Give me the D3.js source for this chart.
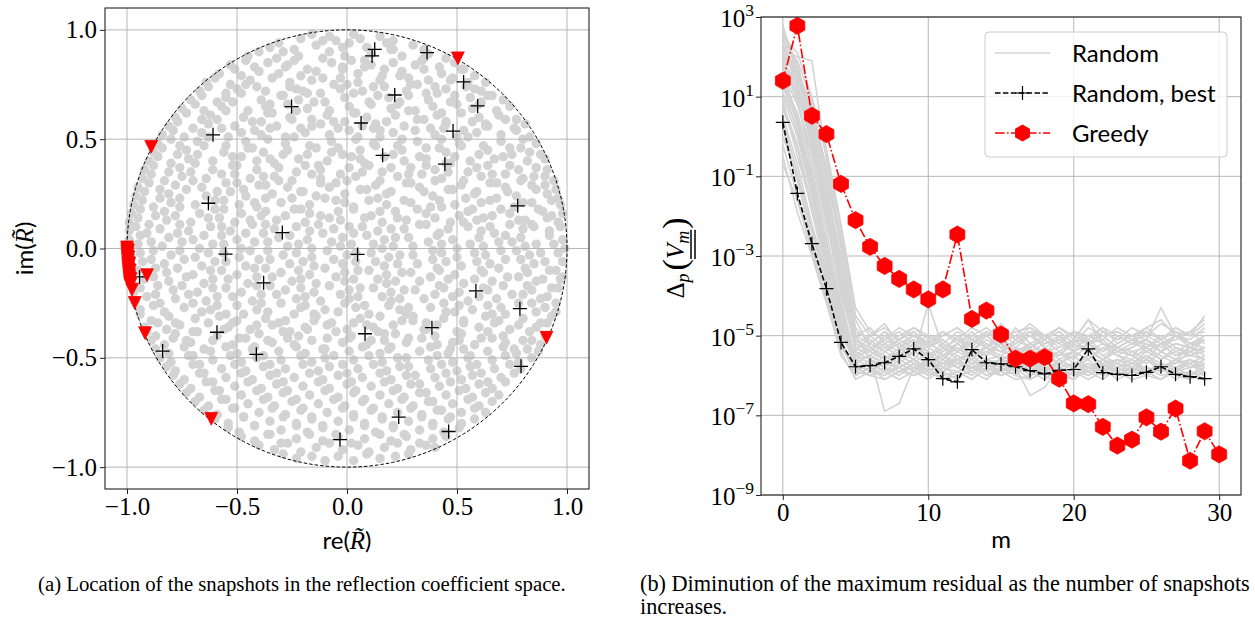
<!DOCTYPE html>
<html><head><meta charset="utf-8">
<script src="https://cdn.jsdelivr.net/npm/d3@7"></script>
<style>
body{margin:0;background:#fff;}
svg{display:block;}
</style></head><body>
<svg id="chart" width="1255" height="620"></svg>
<script>
// ---------------- DATA ----------------
const leftTicks = [-1, -0.5, 0, 0.5, 1];
const leftTickLabels = ["\u22121.0", "\u22120.5", "0.0", "0.5", "1.0"];
const mTicks = [0, 10, 20, 30];
const mTickLabels = ["0", "10", "20", "30"];
const logTicks = [3, 1, -1, -3, -5, -7, -9];
const legendLabels = ["Random", "Random, best", "Greedy"];

// gray snapshot candidates, (re, im) pairs in hundredths
const grayDotsXY = [
-21,96,-16,98,-8,97,-5,95,3,98,6,96,15,97,21,95,
-35,92,-31,94,-24,91,-14,93,-11,95,-2,92,1,94,9,92,18,94,21,91,30,93,35,91,
-45,88,-40,90,-32,87,-29,90,-22,88,-11,87,-8,90,-1,88,8,86,11,89,20,91,25,88,34,86,37,89,45,87,
-53,84,-46,86,-42,83,-36,85,-27,84,-24,86,-18,82,-7,85,-2,83,2,86,11,84,17,82,21,85,31,84,35,87,42,83,49,85,52,82,
-58,80,-51,82,-48,79,-40,81,-31,80,-28,83,-21,79,-14,81,-11,78,-2,82,5,80,8,83,16,79,25,81,28,78,35,82,43,80,47,77,53,82,58,79,
-64,76,-60,78,-53,75,-44,77,-41,74,-34,78,-26,76,-23,73,-16,77,-6,75,-3,78,5,76,12,74,15,77,24,79,29,75,37,77,40,74,48,78,55,76,58,73,63,76,
-67,72,-63,74,-55,71,-50,73,-46,75,-37,72,-29,70,-26,74,-20,72,-12,71,-3,73,0,75,7,72,14,70,17,74,27,72,32,75,36,71,45,73,49,70,54,74,61,72,66,70,
-71,68,-66,70,-59,67,-55,69,-48,71,-39,68,-35,66,-30,70,-22,68,-18,71,-10,67,-1,69,3,71,10,67,19,69,23,66,28,70,37,68,41,71,47,67,56,69,60,66,64,70,71,68,
-75,64,-69,66,-65,63,-57,65,-52,67,-45,63,-37,65,-34,62,-27,66,-18,64,-15,67,-8,63,1,65,4,62,11,66,20,64,24,67,31,63,39,65,43,62,50,66,57,64,61,67,68,63,74,65,
-78,60,-73,62,-66,59,-62,61,-55,63,-47,60,-43,58,-36,62,-26,60,-23,63,-16,59,-9,61,-6,58,3,62,9,60,13,57,22,61,28,63,32,59,41,61,45,58,52,62,60,60,63,57,69,61,77,59,
-81,56,-77,58,-70,55,-63,57,-59,59,-51,56,-42,54,-39,58,-32,56,-25,59,-21,55,-12,57,-4,55,-1,58,7,56,15,54,18,58,26,56,35,59,38,55,45,57,53,54,57,58,64,56,72,59,76,55,81,57,
-84,52,-79,54,-74,51,-66,53,-57,55,-54,51,-48,53,-39,52,-35,55,-28,51,-19,53,-16,56,-8,52,1,54,5,51,12,55,21,53,25,50,31,54,40,52,44,55,50,51,59,53,63,56,70,52,77,54,83,51,
-86,48,-80,50,-76,47,-68,49,-63,51,-55,47,-46,49,-43,46,-36,50,-28,48,-24,51,-17,47,-7,49,-4,46,4,50,12,48,15,51,23,47,32,49,36,46,43,50,51,48,55,51,62,47,70,49,74,46,80,50,86,48,
-88,44,-84,46,-77,43,-73,45,-65,47,-56,44,-52,42,-45,46,-38,44,-35,41,-27,45,-18,43,-14,46,-7,44,2,42,6,45,13,47,21,43,25,45,33,42,42,46,45,44,52,47,60,43,64,45,71,42,79,46,83,44,88,43,
-90,40,-86,42,-80,39,-72,41,-68,43,-61,40,-52,38,-48,42,-41,40,-33,39,-29,43,-22,41,-13,38,-9,40,-2,43,6,41,10,38,17,42,26,40,29,37,36,41,45,39,49,42,56,40,64,38,67,41,75,43,82,40,86,37,90,41,
-92,36,-88,38,-81,35,-76,37,-69,39,-61,36,-57,34,-50,38,-41,36,-38,33,-31,37,-23,35,-19,38,-12,36,-3,34,1,37,8,39,16,35,20,37,28,34,36,38,40,36,47,39,55,35,59,37,66,34,74,38,78,36,85,33,91,36,
-93,32,-89,34,-83,31,-75,33,-71,35,-64,32,-55,30,-51,34,-44,32,-37,29,-33,33,-25,31,-16,34,-12,32,-5,30,4,33,7,35,15,31,23,33,27,30,34,34,43,32,46,35,53,31,61,33,65,30,72,34,80,32,84,29,90,33,94,31,
-95,28,-90,30,-85,27,-78,29,-70,31,-66,28,-59,26,-50,30,-47,27,-40,29,-31,31,-27,28,-20,26,-12,30,-8,28,0,31,9,27,13,29,20,26,29,30,33,28,40,31,48,27,52,29,59,26,68,30,72,28,79,31,86,27,90,29,95,27,
-96,24,-92,26,-85,23,-81,25,-73,27,-64,24,-60,22,-53,26,-46,24,-42,21,-34,25,-25,23,-21,26,-14,24,-5,22,-1,25,6,27,14,23,18,25,26,22,35,26,39,24,46,27,54,23,58,25,65,22,73,26,77,24,84,21,91,25,96,23,
-97,20,-93,22,-88,19,-80,21,-76,23,-69,20,-60,18,-56,22,-49,20,-41,19,-37,23,-30,21,-21,18,-17,20,-10,23,-1,21,3,18,10,22,18,20,22,17,29,21,38,19,42,22,49,20,57,18,61,21,68,23,76,19,80,21,87,18,93,22,97,20,
-98,16,-94,18,-87,15,-83,17,-76,19,-67,16,-63,14,-56,18,-48,16,-44,13,-37,17,-28,15,-24,18,-17,16,-8,14,-4,17,3,19,11,15,15,17,23,14,32,18,36,16,43,19,51,15,55,17,62,14,70,18,74,16,81,13,89,17,93,15,98,16,
-99,12,-95,14,-90,11,-82,13,-78,15,-71,12,-62,10,-58,14,-51,12,-43,11,-39,15,-32,13,-23,10,-19,12,-12,15,-3,13,1,10,8,14,16,12,20,9,27,13,36,11,40,14,47,12,55,10,59,13,66,15,74,11,78,13,85,10,91,14,96,12,
-99,8,-96,10,-91,7,-85,9,-76,11,-72,8,-65,6,-57,10,-53,8,-46,7,-37,11,-33,9,-26,6,-17,8,-13,11,-6,9,3,7,7,10,14,8,22,5,26,9,33,11,42,7,46,9,53,12,61,8,65,10,72,6,80,9,84,11,92,8,97,10,
-99,4,-94,6,-89,3,-81,5,-77,7,-70,4,-61,2,-57,6,-50,4,-42,3,-38,7,-31,5,-22,2,-18,4,-11,7,-2,5,2,2,9,6,17,4,21,1,28,5,37,3,41,6,48,4,56,2,60,5,67,7,75,3,79,5,86,2,92,6,98,4,
-99,0,-95,2,-88,-1,-84,1,-75,3,-67,0,-63,-2,-56,2,-48,0,-44,-1,-36,3,-27,1,-23,-2,-16,0,-7,3,-3,1,4,-2,12,2,16,0,24,-3,30,1,39,-1,43,2,50,0,58,-2,62,1,69,3,77,-1,81,1,88,-2,94,2,99,0,
-98,-4,-94,-2,-89,-5,-80,-3,-76,-1,-69,-4,-60,-6,-56,-2,-49,-4,-40,-5,-36,-1,-29,-3,-20,-6,-16,-4,-9,-1,0,-3,4,-6,11,-2,19,-4,23,-7,30,-3,39,-5,43,-2,50,-4,59,-6,63,-3,70,-1,79,-5,83,-3,90,-6,96,-2,
-99,-8,-93,-6,-87,-9,-83,-7,-74,-5,-66,-8,-62,-10,-55,-6,-46,-8,-42,-9,-35,-5,-26,-7,-22,-10,-15,-8,-6,-5,-2,-7,5,-10,13,-6,17,-8,25,-11,32,-7,41,-9,45,-6,52,-8,61,-10,65,-7,72,-5,81,-9,85,-7,92,-10,98,-6,
-98,-12,-95,-10,-88,-13,-82,-11,-77,-9,-70,-12,-61,-14,-57,-10,-50,-12,-41,-13,-37,-9,-30,-11,-21,-14,-17,-12,-10,-9,-1,-11,3,-14,10,-10,18,-12,22,-15,29,-11,38,-13,42,-10,49,-12,58,-14,62,-11,69,-9,78,-13,82,-11,89,-14,95,-10,98,-13,
-98,-16,-92,-14,-86,-17,-81,-15,-73,-13,-65,-16,-61,-18,-54,-14,-45,-16,-41,-17,-34,-13,-25,-15,-21,-18,-14,-16,-5,-13,-1,-15,6,-18,14,-14,18,-16,26,-19,33,-15,42,-17,46,-14,53,-16,62,-18,66,-15,73,-13,82,-17,86,-15,93,-18,97,-14,
-97,-20,-94,-18,-87,-21,-79,-19,-75,-17,-68,-20,-59,-22,-55,-18,-48,-20,-39,-21,-35,-17,-28,-19,-19,-22,-15,-20,-8,-17,1,-19,5,-22,12,-18,20,-20,24,-23,31,-19,40,-21,44,-18,51,-20,60,-22,64,-19,71,-17,80,-21,84,-19,91,-22,96,-18,
-96,-24,-91,-22,-85,-25,-78,-23,-72,-21,-64,-24,-59,-26,-52,-22,-43,-24,-39,-25,-32,-21,-23,-23,-19,-26,-12,-24,-3,-21,1,-23,8,-26,16,-22,20,-24,28,-27,35,-23,44,-25,48,-22,55,-24,64,-26,68,-23,75,-21,84,-25,88,-23,95,-25,
-94,-28,-88,-26,-83,-29,-74,-27,-70,-25,-62,-28,-55,-30,-50,-26,-41,-28,-36,-29,-30,-25,-21,-27,-15,-30,-10,-28,-1,-25,4,-27,10,-30,19,-26,24,-28,30,-31,38,-27,45,-29,51,-26,57,-28,66,-30,70,-27,78,-25,86,-29,90,-27,95,-29,
-94,-30,-89,-33,-81,-31,-78,-34,-69,-32,-66,-29,-58,-31,-52,-34,-47,-30,-37,-32,-34,-35,-28,-33,-24,-30,-14,-31,-7,-34,-4,-29,6,-32,9,-35,15,-31,25,-33,27,-30,36,-34,44,-32,49,-29,53,-33,63,-31,67,-34,72,-30,80,-32,88,-34,93,-31,
-92,-36,-86,-34,-82,-37,-76,-35,-70,-38,-63,-34,-54,-36,-50,-33,-44,-37,-41,-35,-31,-34,-26,-38,-19,-36,-15,-33,-9,-35,0,-37,3,-34,12,-36,17,-39,21,-35,30,-33,36,-37,41,-35,50,-38,53,-34,60,-36,69,-33,74,-37,78,-35,86,-36,91,-34,
-91,-38,-87,-40,-78,-39,-73,-42,-68,-38,-59,-40,-56,-37,-49,-41,-40,-39,-36,-42,-29,-38,-22,-40,-18,-37,-9,-41,-5,-38,2,-40,11,-42,14,-38,22,-39,28,-41,35,-37,40,-40,48,-43,52,-39,61,-41,64,-38,71,-40,80,-42,83,-38,90,-40,
-89,-42,-83,-44,-79,-41,-71,-43,-65,-46,-61,-42,-52,-44,-46,-41,-42,-45,-34,-43,-27,-41,-24,-44,-16,-42,-10,-46,-2,-43,1,-41,9,-44,17,-42,20,-45,27,-43,34,-41,41,-44,47,-46,51,-42,58,-44,66,-41,72,-43,76,-46,84,-42,88,-44,
-87,-46,-81,-48,-74,-45,-70,-49,-62,-47,-55,-45,-50,-48,-43,-46,-38,-49,-31,-47,-23,-45,-19,-48,-11,-46,-6,-49,1,-47,7,-45,15,-48,19,-46,27,-50,33,-47,38,-45,46,-48,53,-46,56,-49,64,-47,71,-45,77,-48,82,-46,87,-47,
-85,-50,-80,-52,-72,-49,-67,-53,-61,-51,-53,-49,-48,-52,-41,-50,-35,-53,-30,-51,-21,-49,-16,-52,-10,-50,-2,-53,3,-51,10,-49,16,-52,23,-50,28,-54,37,-51,41,-49,48,-52,55,-50,59,-53,66,-51,72,-49,78,-52,84,-50,
-82,-54,-78,-56,-70,-53,-65,-57,-57,-55,-51,-53,-46,-56,-38,-54,-32,-57,-28,-55,-20,-53,-13,-56,-8,-54,0,-57,5,-55,12,-53,18,-56,24,-54,31,-58,38,-55,43,-53,50,-56,56,-54,61,-57,67,-55,74,-53,79,-55,
-79,-58,-74,-60,-67,-57,-61,-61,-55,-59,-48,-57,-43,-60,-35,-58,-29,-61,-24,-59,-17,-57,-11,-60,-4,-58,2,-61,7,-59,15,-57,20,-60,27,-58,33,-62,40,-59,45,-57,52,-60,57,-58,64,-61,70,-59,76,-57,
-76,-62,-71,-64,-64,-61,-58,-65,-51,-63,-45,-61,-39,-64,-32,-62,-27,-65,-20,-63,-13,-61,-8,-64,0,-62,4,-65,11,-63,17,-61,23,-64,29,-62,36,-66,42,-63,47,-61,54,-64,60,-62,66,-64,72,-61,
-73,-66,-67,-68,-60,-65,-55,-69,-48,-67,-41,-65,-36,-68,-29,-66,-23,-69,-17,-67,-10,-65,-4,-68,3,-66,8,-69,15,-67,21,-65,26,-68,33,-66,39,-70,45,-67,51,-65,57,-68,63,-66,69,-67,
-69,-70,-63,-72,-57,-69,-51,-73,-45,-71,-38,-69,-33,-72,-25,-70,-20,-73,-13,-71,-6,-69,-1,-72,7,-70,12,-73,19,-71,25,-69,30,-72,37,-70,43,-74,48,-71,55,-69,60,-72,66,-70,
-65,-74,-59,-76,-52,-73,-47,-77,-40,-75,-34,-73,-28,-76,-21,-74,-16,-77,-9,-75,-2,-73,3,-76,11,-74,16,-77,23,-75,29,-73,34,-76,41,-74,47,-77,52,-75,58,-73,63,-75,
-60,-78,-54,-80,-47,-77,-42,-81,-35,-79,-29,-77,-23,-80,-16,-78,-11,-81,-4,-79,3,-77,8,-80,16,-78,21,-81,28,-79,34,-77,39,-80,46,-78,52,-80,58,-78,
-54,-82,-49,-84,-42,-81,-36,-85,-30,-83,-23,-81,-18,-84,-11,-82,-5,-85,1,-83,8,-81,13,-84,21,-82,26,-85,33,-83,39,-81,44,-84,51,-82,
-48,-86,-42,-88,-35,-85,-30,-89,-23,-87,-17,-85,-11,-88,-4,-86,2,-89,8,-87,15,-85,20,-88,27,-86,33,-89,39,-87,45,-86,
-40,-90,-33,-92,-27,-89,-21,-93,-14,-91,-8,-89,-2,-92,5,-90,10,-93,17,-91,23,-89,29,-92,36,-90,40,-91,
-29,-94,-23,-96,-16,-95,-10,-97,-4,-95,3,-97,9,-94,15,-96,22,-95,28,-94
];

// snapshots chosen by the best random run
const bestSnapRe = [-0.252,-0.609,-0.630,-0.294,-0.552,-0.943,-0.379,-0.591,-0.838,-0.412,0.126,0.114,0.364,0.530,0.594,0.217,0.064,0.482,0.162,0.445,0.776,0.048,0.586,0.786,0.386,0.082,0.791,0.235,0.462,-0.032];
const bestSnapIm = [0.649,0.520,0.207,0.073,-0.026,-0.130,-0.157,-0.383,-0.469,-0.484,0.911,0.881,0.896,0.762,0.652,0.702,0.574,0.537,0.426,0.386,0.195,-0.027,-0.194,-0.275,-0.362,-0.390,-0.539,-0.771,-0.837,-0.874];

// snapshots chosen by the greedy algorithm
const greedySnapRe = [-0.890,0.504,0.907,-0.617,-0.918,-0.909,-0.965,-0.977,-1.000,-0.999,-0.999,-0.998,-0.998,-0.997,-0.996,-0.995,-0.995,-0.994,-0.993,-0.992,-0.991,-0.990,-0.989,-0.988,-0.987,-0.985,-0.996,-0.993,-0.990,-0.987,-0.984];
const greedySnapIm = [0.465,0.870,-0.408,-0.779,-0.387,-0.122,-0.249,-0.188,0.005,-0.005,-0.015,-0.025,-0.035,-0.045,-0.055,-0.065,-0.075,-0.085,-0.095,-0.105,-0.115,-0.125,-0.135,-0.145,-0.155,-0.165,-0.010,-0.040,-0.070,-0.100,-0.140];

// residuals (log10) for m = 0..29 of each random run
const randomRunsLog = [
[2.8,1.5,0.2,-1.5,-3.2,-5.3,-5.5,-5.2,-5.6,-5.4,-5.1,-5.5,-5.3,-5.6,-5.2,-5.4,-5.5,-5.3,-5.1,-5.4,-5.6,-5.2,-5.5,-5.3,-5.4,-5.6,-5.2,-5.5,-5.3,-5.4],
[2.2,2.0,1.9,-0.6,-2.6,-5.0,-5.6,-5.8,-5.5,-5.7,-5.4,-5.8,-5.6,-5.5,-5.8,-5.6,-5.7,-5.5,-5.9,-5.6,-5.8,-5.5,-5.7,-5.6,-5.8,-5.5,-5.7,-5.9,-5.6,-5.7],
[1.6,0.8,-0.4,-2.1,-4.0,-5.7,-5.9,-5.7,-5.8,-5.6,-5.9,-5.7,-5.8,-6.0,-5.7,-5.9,-5.8,-5.6,-5.9,-5.7,-5.8,-6.0,-5.7,-5.9,-5.8,-5.6,-5.9,-5.8,-5.7,-5.9],
[1.2,1.8,0.5,-1.0,-2.8,-4.8,-5.2,-4.9,-5.3,-5.0,-5.2,-4.9,-5.1,-5.3,-4.9,-5.2,-5.0,-5.3,-5.1,-4.9,-5.2,-5.0,-4.8,-5.2,-5.0,-5.1,-4.3,-5.0,-4.9,-4.6],
[0.9,-0.5,-1.8,-3.0,-4.5,-5.9,-6.0,-6.1,-5.9,-6.0,-5.8,-6.1,-6.0,-5.9,-6.1,-5.8,-6.0,-6.1,-5.9,-6.0,-6.1,-5.8,-6.0,-5.9,-6.1,-6.0,-5.8,-6.0,-6.1,-5.9],
[2.5,1.3,0.0,-1.8,-3.6,-5.4,-5.0,-4.7,-5.2,-5.5,-4.2,-5.3,-5.1,-5.4,-5.0,-5.3,-5.2,-4.9,-5.3,-5.1,-5.4,-5.2,-5.0,-5.3,-5.1,-5.2,-5.4,-5.0,-5.2,-5.1],
[1.9,1.0,-0.9,-2.7,-4.3,-5.6,-5.5,-6.9,-6.7,-5.8,-5.6,-5.9,-5.7,-5.8,-5.6,-5.7,-5.9,-5.6,-5.8,-5.7,-5.5,-5.8,-5.6,-5.7,-5.9,-5.6,-5.8,-5.7,-5.6,-5.8],
[0.5,-0.7,-2.2,-3.5,-5.0,-5.5,-5.2,-5.4,-5.1,-5.3,-5.5,-5.2,-5.4,-5.1,-5.3,-5.4,-5.2,-5.0,-5.3,-5.5,-5.1,-4.6,-5.2,-5.4,-5.3,-5.1,-5.4,-5.2,-5.3,-5.0],
[2.0,1.6,0.8,-0.8,-2.5,-4.6,-5.3,-5.6,-5.4,-5.2,-5.5,-5.3,-5.6,-5.4,-5.5,-5.2,-5.4,-5.6,-5.3,-5.5,-5.2,-5.4,-5.6,-5.3,-5.5,-5.4,-5.2,-5.5,-5.4,-5.3],
[1.4,0.3,-1.2,-2.9,-4.6,-5.8,-5.7,-5.9,-5.6,-5.8,-5.7,-5.5,-5.8,-5.6,-5.9,-5.7,-5.8,-6.5,-6.3,-5.8,-5.7,-5.9,-5.6,-5.8,-5.7,-5.9,-5.8,-5.6,-5.8,-5.7],
[-0.5,-1.9,-3.0,-4.2,-5.4,-6.1,-5.9,-6.0,-5.8,-6.0,-5.9,-6.1,-5.9,-5.8,-6.0,-5.9,-6.1,-6.0,-5.8,-6.0,-5.9,-6.1,-5.9,-6.0,-5.8,-6.0,-6.1,-5.9,-6.0,-5.8],
[2.4,1.9,0.9,-0.3,-2.2,-4.3,-4.9,-5.1,-4.8,-5.0,-5.2,-4.9,-5.1,-4.8,-5.0,-4.7,-5.1,-4.9,-5.0,-5.2,-4.9,-5.0,-5.1,-4.8,-5.0,-4.9,-5.1,-4.8,-5.0,-4.9],
[1.0,0.0,-1.5,-3.2,-4.8,-5.6,-5.8,-5.5,-5.7,-5.9,-5.6,-5.8,-5.5,-5.7,-5.6,-5.8,-5.5,-5.7,-5.6,-5.4,-5.7,-5.5,-5.8,-5.6,-5.7,-5.5,-5.8,-5.6,-5.7,-5.5],
[1.7,1.1,-0.2,-1.9,-3.9,-5.2,-5.4,-5.0,-5.3,-5.1,-5.4,-5.6,-5.2,-4.9,-5.3,-5.1,-5.4,-5.2,-5.5,-5.0,-5.3,-5.1,-5.4,-5.2,-5.0,-5.3,-5.1,-5.4,-5.2,-5.3],
[0.2,-1.1,-2.6,-3.8,-5.1,-5.9,-5.6,-5.8,-6.0,-5.7,-5.9,-5.6,-5.8,-5.7,-6.0,-5.8,-5.6,-5.9,-5.7,-5.8,-6.0,-5.7,-5.9,-5.8,-5.6,-5.9,-5.7,-5.8,-6.0,-5.7],
[2.6,1.7,0.4,-1.3,-3.0,-5.1,-5.3,-5.1,-4.9,-5.2,-5.0,-5.3,-5.1,-5.2,-4.9,-5.1,-5.3,-5.0,-5.2,-5.1,-4.9,-5.2,-5.0,-5.3,-5.1,-5.0,-5.2,-5.1,-4.9,-5.2],
[1.3,0.6,-0.8,-2.4,-4.2,-5.7,-5.5,-5.7,-5.4,-5.6,-5.8,-5.5,-5.7,-5.4,-5.6,-5.5,-5.3,-5.6,-5.4,-5.7,-5.5,-5.3,-5.6,-5.4,-5.5,-5.7,-5.4,-5.6,-5.5,-5.4],
[0.7,-0.3,-1.9,-3.4,-5.2,-6.0,-5.8,-6.0,-5.7,-5.9,-6.1,-5.8,-6.0,-5.9,-5.7,-6.0,-5.8,-5.9,-6.1,-5.8,-6.0,-5.9,-5.7,-6.0,-5.8,-5.9,-6.1,-5.8,-6.0,-5.9],
[2.1,1.4,0.6,-1.1,-3.3,-5.0,-4.8,-5.2,-5.0,-4.8,-5.1,-4.9,-5.2,-5.0,-4.8,-5.1,-4.9,-4.8,-5.1,-4.9,-5.2,-4.8,-5.0,-4.9,-5.1,-4.8,-4.6,-5.0,-5.1,-4.8],
[1.5,0.4,-1.0,-2.6,-4.4,-5.5,-5.7,-5.4,-5.6,-5.3,-5.5,-5.7,-5.4,-5.6,-5.3,-5.5,-5.7,-5.4,-5.6,-5.5,-5.4,-5.6,-5.3,-5.5,-5.7,-5.4,-5.6,-5.3,-5.5,-5.6],
[-0.2,-1.5,-2.8,-4.0,-5.3,-5.8,-6.0,-5.9,-6.1,-5.9,-5.7,-6.0,-5.9,-6.1,-5.8,-6.0,-5.9,-5.7,-6.0,-6.2,-5.9,-6.0,-5.8,-6.1,-5.9,-6.0,-5.8,-6.1,-5.9,-6.0],
[2.3,1.2,-0.1,-1.6,-3.4,-5.3,-5.1,-5.4,-5.2,-5.0,-5.3,-5.1,-5.4,-5.2,-5.0,-5.3,-4.8,-5.2,-5.0,-5.3,-5.1,-5.2,-5.4,-5.0,-5.2,-5.1,-5.3,-5.0,-5.2,-5.1],
[0.0,-1.0,-2.4,-3.7,-4.9,-5.7,-5.9,-5.6,-5.8,-5.6,-5.9,-5.7,-5.6,-5.8,-5.7,-5.6,-5.9,-5.8,-5.6,-5.9,-5.7,-5.8,-5.6,-5.9,-5.7,-5.8,-5.9,-5.6,-5.8,-5.7],
[1.8,0.9,-0.6,-2.2,-3.7,-5.2,-5.0,-4.8,-5.1,-4.9,-5.3,-5.0,-4.8,-5.1,-4.9,-5.2,-5.0,-4.7,-5.0,-4.8,-5.1,-4.6,-4.9,-5.1,-4.8,-5.0,-4.7,-4.9,-5.0,-4.5],
[2.7,1.8,0.3,-1.4,-3.1,-5.1,-5.4,-5.1,-5.3,-5.6,-5.2,-5.4,-5.0,-5.3,-5.5,-5.1,-5.3,-5.4,-5.2,-5.0,-5.4,-5.2,-5.1,-5.4,-5.2,-5.3,-5.0,-5.3,-5.4,-5.1],
[1.1,0.2,-1.3,-3.1,-4.7,-5.9,-5.7,-5.9,-5.8,-5.6,-5.9,-5.7,-5.6,-5.9,-5.7,-5.8,-6.0,-5.7,-5.9,-5.6,-5.8,-5.7,-5.9,-5.6,-5.8,-5.9,-5.7,-5.9,-5.8,-5.6],
[2.0,1.1,-0.3,-2.0,-3.8,-5.4,-5.6,-5.3,-5.5,-5.2,-5.4,-5.6,-5.3,-5.5,-5.4,-5.2,-5.5,-5.3,-5.6,-5.4,-5.1,-5.4,-5.6,-5.3,-5.5,-5.2,-5.4,-5.6,-5.3,-5.5],
[0.4,-0.9,-2.3,-3.6,-5.0,-5.6,-5.3,-5.5,-5.7,-5.4,-5.6,-5.3,-5.5,-5.7,-5.4,-5.6,-5.5,-5.2,-5.5,-5.7,-5.4,-5.6,-5.3,-5.5,-5.6,-5.3,-5.5,-5.7,-5.4,-5.6],
[2.3,1.6,0.1,-1.7,-3.5,-5.0,-5.2,-4.9,-5.1,-4.8,-5.0,-5.2,-4.9,-5.1,-5.3,-4.9,-5.1,-4.8,-5.0,-5.2,-4.9,-5.1,-4.8,-5.0,-5.2,-4.9,-5.1,-4.8,-5.0,-4.7],
[1.6,0.5,-1.1,-2.8,-4.5,-5.7,-5.9,-5.6,-5.8,-6.0,-5.7,-5.9,-5.6,-5.8,-5.7,-5.9,-5.6,-5.8,-5.9,-5.7,-5.8,-5.6,-5.9,-5.7,-5.8,-6.0,-5.7,-5.8,-5.6,-5.9],
[0.8,-0.2,-1.7,-3.3,-4.9,-5.5,-5.4,-5.6,-5.3,-5.5,-5.7,-5.4,-5.2,-5.5,-5.3,-5.6,-5.4,-5.5,-5.3,-5.6,-5.4,-5.2,-5.5,-5.7,-5.4,-5.3,-5.6,-5.4,-5.5,-5.3],
[2.5,2.1,1.0,-0.5,-2.3,-4.5,-5.0,-5.3,-5.1,-4.9,-5.2,-5.0,-4.8,-5.1,-5.3,-5.0,-5.2,-4.9,-5.1,-4.8,-5.0,-5.2,-4.9,-5.1,-5.0,-4.8,-5.1,-4.9,-5.2,-5.0],
[1.3,0.1,-1.4,-3.0,-4.6,-5.8,-6.0,-5.8,-5.9,-5.7,-6.0,-5.8,-5.9,-6.1,-5.8,-5.9,-5.7,-6.0,-5.8,-5.9,-6.1,-5.8,-5.7,-6.0,-5.9,-5.8,-6.0,-5.9,-5.7,-6.0],
[1.9,1.3,0.2,-1.5,-3.3,-5.3,-5.5,-5.2,-5.4,-5.1,-5.3,-5.5,-5.2,-5.4,-5.1,-5.3,-5.6,-5.2,-5.4,-5.3,-5.1,-5.4,-5.2,-5.5,-5.3,-5.1,-5.4,-5.2,-5.3,-5.4],
[-0.7,-1.6,-2.9,-4.1,-5.5,-6.0,-5.8,-6.1,-5.9,-5.8,-6.0,-5.9,-6.1,-5.8,-5.9,-6.0,-5.8,-6.1,-5.9,-6.0,-5.8,-5.9,-6.1,-5.8,-6.0,-5.9,-5.8,-6.0,-5.9,-6.1],
[2.2,1.5,0.7,-0.9,-2.7,-4.9,-5.1,-5.4,-5.2,-5.0,-5.3,-5.1,-5.4,-5.0,-5.2,-5.4,-5.1,-5.3,-5.0,-5.2,-5.4,-5.0,-5.2,-5.3,-5.1,-5.4,-5.2,-5.0,-5.3,-5.1]
];
// best random run, m = 0..29 (log10)
const bestResidualLog = [0.355,-1.43,-2.69,-3.82,-5.17,-5.78,-5.75,-5.68,-5.52,-5.33,-5.60,-6.08,-6.16,-5.35,-5.68,-5.71,-5.78,-5.88,-5.96,-5.87,-5.85,-5.33,-5.93,-5.97,-6.00,-5.92,-5.78,-5.97,-6.03,-6.08];
// greedy, m = 0..30 (log10)
const greedyResidualLog = [1.40,2.78,0.52,0.06,-1.19,-2.10,-2.77,-3.25,-3.575,-3.84,-4.09,-3.84,-2.46,-4.58,-4.37,-4.97,-5.575,-5.575,-5.54,-6.08,-6.70,-6.72,-7.29,-7.76,-7.61,-7.05,-7.41,-6.83,-8.14,-7.40,-7.98];

// ---------------- DRAWING ----------------
const svg = d3.select("#chart");
const SERIF = "'Liberation Serif','Times New Roman',serif";
const SANS = "Lato,'DejaVu Sans',sans-serif";
const GRID = "#b0b0b0";
const LIGHT = "#d3d3d3";

function hexPath(r){
  const p = d3.range(6).map(k => { const a = -Math.PI/2 + k*Math.PI/3; return [r*Math.cos(a), r*Math.sin(a)]; });
  return "M" + p.map(q => q.join(",")).join("L") + "Z";
}
const plusPath = s => `M${-s},0H${s}M0,${-s}V${s}`;
const triPath = s => `M${-s},${-s}L${s},${-s}L0,${s}Z`;

// ---- left panel ----
const L = {x0:105, x1:589, y0:8, y1:489};
const xL = d3.scaleLinear().domain([-1.1, 1.1]).range([L.x0, L.x1]);
const yL = d3.scaleLinear().domain([-1.1, 1.1]).range([L.y1, L.y0]);
const gL = svg.append("g");

const dots = d3.range(grayDotsXY.length/2).map(i => [grayDotsXY[2*i]/100, grayDotsXY[2*i+1]/100]);
gL.append("g").selectAll("circle").data(dots).join("circle")
  .attr("cx", d => xL(d[0])).attr("cy", d => yL(d[1])).attr("r", 4.7).attr("fill", LIGHT);

// grid (above scatter like matplotlib)
const gridL = gL.append("g").attr("stroke", GRID).attr("stroke-width", 0.9);
leftTicks.forEach(t => {
  gridL.append("line").attr("x1", xL(t)).attr("x2", xL(t)).attr("y1", L.y0).attr("y2", L.y1);
  gridL.append("line").attr("y1", yL(t)).attr("y2", yL(t)).attr("x1", L.x0).attr("x2", L.x1);
});

// unit circle
const ang = d3.range(0, 361).map(a => a*Math.PI/180);
gL.append("path").attr("d", d3.line().x(a => xL(Math.cos(a))).y(a => yL(Math.sin(a)))(ang))
  .attr("fill", "none").attr("stroke", "#000").attr("stroke-width", 1).attr("stroke-dasharray", "3.5,2");

gL.append("g").selectAll("path").data(d3.range(bestSnapRe.length)).join("path")
  .attr("transform", i => `translate(${xL(bestSnapRe[i])},${yL(bestSnapIm[i])})`)
  .attr("d", plusPath(7)).attr("stroke", "#000").attr("stroke-width", 1.3).attr("fill", "none");

gL.append("g").selectAll("path").data(d3.range(greedySnapRe.length)).join("path")
  .attr("transform", i => `translate(${xL(greedySnapRe[i])},${yL(greedySnapIm[i])})`)
  .attr("d", triPath(6.4)).attr("fill", "#ff0000").attr("stroke", "#ff0000").attr("stroke-width", 0.8);

gL.append("rect").attr("x", L.x0).attr("y", L.y0).attr("width", L.x1-L.x0).attr("height", L.y1-L.y0)
  .attr("fill", "none").attr("stroke", "#222").attr("stroke-width", 1.1);

const axLx = gL.append("g").attr("transform", `translate(0,${L.y1})`)
  .call(d3.axisBottom(xL).tickValues(leftTicks).tickFormat((d,i) => leftTickLabels[i]).tickSize(5).tickSizeOuter(0));
const axLy = gL.append("g").attr("transform", `translate(${L.x0},0)`)
  .call(d3.axisLeft(yL).tickValues(leftTicks).tickFormat((d,i) => leftTickLabels[i]).tickSize(5).tickSizeOuter(0));
[axLx, axLy].forEach(a => {
  a.select(".domain").remove();
  a.selectAll("text").attr("font-family", SERIF).attr("font-size", 25).attr("fill", "#000");
  a.selectAll("line").attr("stroke", "#222").attr("stroke-width", 1);
});

// axis labels left
const reLab = svg.append("text").attr("x", (L.x0+L.x1)/2).attr("y", 549).attr("text-anchor", "middle")
  .attr("font-family", SANS).attr("font-size", 24);
reLab.append("tspan").text("re(");
reLab.append("tspan").attr("font-family", SERIF).attr("font-style", "italic").attr("font-size", 25).text("R\u0303");
reLab.append("tspan").text(")");
const imLab = svg.append("text").attr("transform", `translate(33,${(L.y0+L.y1)/2}) rotate(-90)`)
  .attr("text-anchor", "middle").attr("font-family", SANS).attr("font-size", 24);
imLab.append("tspan").text("im(");
imLab.append("tspan").attr("font-family", SERIF).attr("font-style", "italic").attr("font-size", 25).text("R\u0303");
imLab.append("tspan").text(")");

// ---- right panel ----
const R = {x0:761, x1:1241, y0:17, y1:495};
const xR = d3.scaleLinear().domain([-1.5, 31.5]).range([R.x0, R.x1]);
const yR = d3.scaleLog().domain([1e-9, 1e3]).range([R.y1, R.y0]);
const gR = svg.append("g");
svg.append("clipPath").attr("id", "clipR").append("rect")
  .attr("x", R.x0).attr("y", R.y0).attr("width", R.x1-R.x0).attr("height", R.y1-R.y0);

const gridR = gR.append("g").attr("stroke", GRID).attr("stroke-width", 0.9);
mTicks.forEach(t => gridR.append("line").attr("x1", xR(t)).attr("x2", xR(t)).attr("y1", R.y0).attr("y2", R.y1));
logTicks.forEach(t => gridR.append("line").attr("y1", yR(Math.pow(10,t))).attr("y2", yR(Math.pow(10,t))).attr("x1", R.x0).attr("x2", R.x1));

const lineGen = d3.line().x((d,i) => xR(i)).y(d => yR(Math.pow(10, d)));
const plot = gR.append("g").attr("clip-path", "url(#clipR)");
plot.append("g").selectAll("path").data(randomRunsLog).join("path")
  .attr("d", lineGen).attr("fill", "none").attr("stroke", LIGHT).attr("stroke-width", 1.6);

plot.append("path").attr("d", lineGen(bestResidualLog)).attr("fill", "none")
  .attr("stroke", "#000").attr("stroke-width", 1.6).attr("stroke-dasharray", "5.5,2.4");
plot.append("g").selectAll("path").data(bestResidualLog).join("path")
  .attr("transform", (d,i) => `translate(${xR(i)},${yR(Math.pow(10,d))})`)
  .attr("d", plusPath(7)).attr("stroke", "#000").attr("stroke-width", 1.2);

plot.append("path").attr("d", lineGen(greedyResidualLog)).attr("fill", "none")
  .attr("stroke", "#ff0000").attr("stroke-width", 1.6).attr("stroke-dasharray", "9.6,2.4,1.6,2.4");
plot.append("g").selectAll("path").data(greedyResidualLog).join("path")
  .attr("transform", (d,i) => `translate(${xR(i)},${yR(Math.pow(10,d))})`)
  .attr("d", hexPath(8.6)).attr("fill", "#ff0000").attr("stroke", "#ff0000").attr("stroke-width", 0.8);

gR.append("rect").attr("x", R.x0).attr("y", R.y0).attr("width", R.x1-R.x0).attr("height", R.y1-R.y0)
  .attr("fill", "none").attr("stroke", "#222").attr("stroke-width", 1.1);

const axRx = gR.append("g").attr("transform", `translate(0,${R.y1})`)
  .call(d3.axisBottom(xR).tickValues(mTicks).tickFormat((d,i) => mTickLabels[i]).tickSize(5).tickSizeOuter(0));
axRx.select(".domain").remove();
axRx.selectAll("text").attr("font-family", SERIF).attr("font-size", 25).attr("fill", "#000");
axRx.selectAll("line").attr("stroke", "#222");

const axRy = gR.append("g").attr("transform", `translate(${R.x0},0)`)
  .call(d3.axisLeft(yR).tickValues(logTicks.map(t => Math.pow(10,t))).tickFormat("").tickSize(5).tickSizeOuter(0));
axRy.select(".domain").remove();
axRy.selectAll("line").attr("stroke", "#222");
logTicks.forEach(t => {
  const tx = gR.append("text").attr("x", R.x0 - 7).attr("y", yR(Math.pow(10,t)) + 10)
    .attr("text-anchor", "end").attr("font-family", SERIF).attr("font-size", 25).attr("fill", "#000");
  tx.append("tspan").text("10");
  tx.append("tspan").attr("font-size", 17.5).attr("dy", -11).text(t < 0 ? "\u2212" + (-t) : String(t));
});

// x label
svg.append("text").attr("x", (R.x0+R.x1)/2).attr("y", 548).attr("text-anchor", "middle")
  .attr("font-family", SANS).attr("font-size", 24).text("m");

// y label: Delta_p ( V_m double underlined )
const yl = svg.append("g").attr("transform", `translate(684,258) rotate(-90)`);
const ylt = yl.append("text").attr("text-anchor", "middle").attr("font-family", SERIF).attr("font-size", 25);
ylt.append("tspan").text("\u0394");
ylt.append("tspan").attr("font-style", "italic").attr("font-size", 18).attr("dy", 5).text("p");
ylt.append("tspan").attr("font-size", 34).attr("dy", -3).attr("dx", 3).text("(");
ylt.append("tspan").attr("font-style", "italic").attr("font-size", 25).attr("dy", -2).text("V");
ylt.append("tspan").attr("font-style", "italic").attr("font-size", 18).attr("dy", 5).text("m");
ylt.append("tspan").attr("font-size", 34).attr("dy", -3).attr("dx", 2).text(")");
{
  const n = ylt.node();
  const eV = n.getExtentOfChar(3), eM = n.getExtentOfChar(4);
  const xa = eV.x, xb = eM.x + eM.width + 1;
  [7, 11].forEach(o => yl.append("line").attr("x1", xa).attr("x2", xb).attr("y1", o).attr("y2", o)
    .attr("stroke", "#000").attr("stroke-width", 1.5));
}

// legend
const lg = svg.append("g");
lg.append("rect").attr("x", 985).attr("y", 32).attr("width", 242).attr("height", 125).attr("rx", 4)
  .attr("fill", "#fff").attr("fill-opacity", 0.8).attr("stroke", "#cccccc").attr("stroke-width", 1);
const rowsY = [53, 93, 133];
lg.append("line").attr("x1", 995).attr("x2", 1050).attr("y1", rowsY[0]).attr("y2", rowsY[0]).attr("stroke", LIGHT).attr("stroke-width", 1.6);
lg.append("line").attr("x1", 995).attr("x2", 1050).attr("y1", rowsY[1]).attr("y2", rowsY[1]).attr("stroke", "#000").attr("stroke-width", 1.6).attr("stroke-dasharray", "5.5,2.4");
lg.append("path").attr("transform", `translate(1022.5,${rowsY[1]})`).attr("d", plusPath(7)).attr("stroke", "#000").attr("stroke-width", 1.2);
lg.append("line").attr("x1", 995).attr("x2", 1050).attr("y1", rowsY[2]).attr("y2", rowsY[2]).attr("stroke", "#ff0000").attr("stroke-width", 1.6).attr("stroke-dasharray", "9.6,2.4,1.6,2.4");
lg.append("path").attr("transform", `translate(1022.5,${rowsY[2]})`).attr("d", hexPath(8.6)).attr("fill", "#ff0000");
legendLabels.forEach((s,i) => lg.append("text").attr("x", 1072).attr("y", rowsY[i] + 9)
  .attr("font-family", SANS).attr("font-size", 24).attr("fill", "#000").text(s));

// captions
function fitText(t, w){ t.attr("font-size", 18); const len = t.node().getComputedTextLength(); const fs = 18*w/len; t.attr("font-size", fs); return fs; }
const capA = svg.append("text").attr("x", 38).attr("y", 591).attr("font-family", SERIF).attr("fill", "#000")
  .text("(a) Location of the snapshots in the reflection coefficient space.");
fitText(capA, 528);
const capB = svg.append("text").attr("x", 640).attr("y", 591).attr("font-family", SERIF).attr("fill", "#000")
  .text("(b) Diminution of the maximum residual as the number of snapshots");
const fsB = fitText(capB, 610);
svg.append("text").attr("x", 640).attr("y", 614).attr("font-family", SERIF).attr("font-size", fsB).attr("fill", "#000")
  .text("increases.");
</script>
</body></html>
